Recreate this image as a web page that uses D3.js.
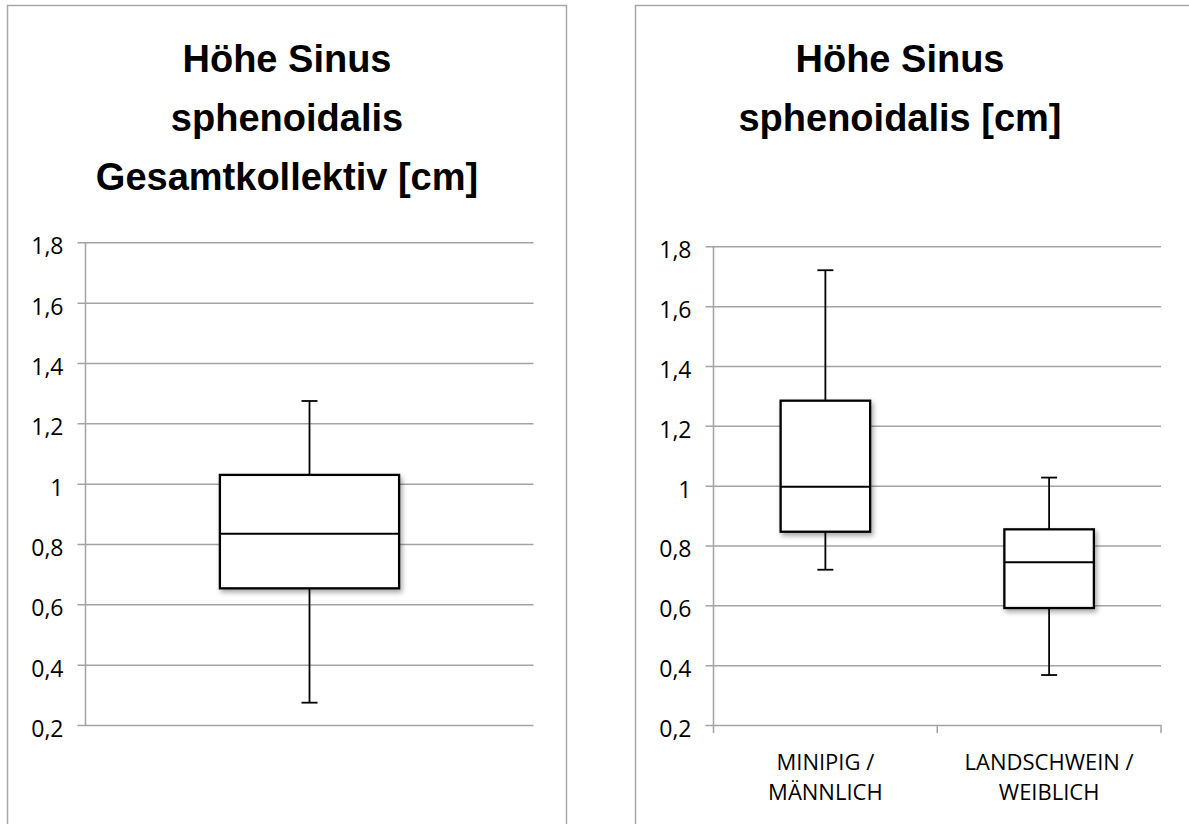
<!DOCTYPE html>
<html>
<head>
<meta charset="utf-8">
<script src="https://cdn.jsdelivr.net/npm/d3@7"></script>
<style>
  body { margin: 0; background: #ffffff; }
  svg { display: block; }
</style>
</head>
<body>
<svg id="chart" width="1189" height="824"></svg>
<script>
// Y axis ticks and their German-formatted labels
const yTicks = [0.2, 0.4, 0.6, 0.8, 1.0, 1.2, 1.4, 1.6, 1.8];
const yTickLabels = ["0,2", "0,4", "0,6", "0,8", "1", "1,2", "1,4", "1,6", "1,8"];

// Whole sample (one box)
const overallTitle = ["Höhe Sinus", "sphenoidalis", "Gesamtkollektiv [cm]"];
const overallCategories = ["gesamt"];
const overallMin = [0.274];
const overallQ1 = [0.653];
const overallMedian = [0.834];
const overallQ3 = [1.029];
const overallMax = [1.274];

// Split by group (two boxes)
const groupTitle = ["Höhe Sinus", "sphenoidalis [cm]"];
const groupCategories = ["MINIPIG / MÄNNLICH", "LANDSCHWEIN / WEIBLICH"];
const groupLabelLines = [["MINIPIG /", "MÄNNLICH"], ["LANDSCHWEIN /", "WEIBLICH"]];
const groupMin = [0.719, 0.367];
const groupQ1 = [0.846, 0.591];
const groupMedian = [0.996, 0.744];
const groupQ3 = [1.284, 0.854];
const groupMax = [1.720, 1.027];

const svg = d3.select("#chart");
const GRID = "#a3a3a3";
const BORDER = "#a8a8a8";
const LABEL_FONT = "'Open Sans', 'DejaVu Sans', sans-serif";
const TITLE_FONT = "'Liberation Sans', Arial, sans-serif";

// soft drop shadow under the boxes
const defs = svg.append("defs");
const shadow = defs.append("filter").attr("id", "boxShadow")
  .attr("x", "-20%").attr("y", "-20%").attr("width", "140%").attr("height", "140%");
shadow.append("feDropShadow")
  .attr("dx", 2).attr("dy", 3).attr("stdDeviation", 2.5)
  .attr("flood-color", "#000").attr("flood-opacity", 0.35);

svg.append("rect").attr("width", 1189).attr("height", 824).attr("fill", "#fff");

function drawPanel(cfg) {
  const g = svg.append("g");

  // panel frame
  g.append("rect")
    .attr("x", cfg.frame[0]).attr("y", cfg.frame[1])
    .attr("width", cfg.frame[2]).attr("height", cfg.frame[3])
    .attr("fill", "#fff").attr("stroke", BORDER).attr("stroke-width", 1.5);

  // title
  const title = g.append("text")
    .attr("x", cfg.titleX).attr("y", cfg.titleY)
    .attr("text-anchor", "middle")
    .attr("font-family", TITLE_FONT).attr("font-weight", "bold")
    .attr("font-size", cfg.titleSize).attr("fill", "#000");
  cfg.title.forEach((line, i) => {
    title.append("tspan").attr("x", cfg.titleX).attr("dy", i === 0 ? 0 : cfg.titleLead).text(line);
  });

  const y = d3.scaleLinear().domain([0.2, 1.8]).range([cfg.bottom, cfg.top]);
  const x = d3.scaleBand().domain(cfg.categories).range([cfg.left, cfg.right])
    .paddingInner(0).paddingOuter(0);

  // horizontal gridlines with outward ticks and value labels
  const yAxis = d3.axisLeft(y)
    .tickValues(yTicks)
    .tickFormat((d, i) => yTickLabels[i])
    .tickSize(-(cfg.right - cfg.left))
    .tickSizeOuter(0);
  const ya = g.append("g").attr("transform", `translate(${cfg.left},0)`).call(yAxis);
  ya.select(".domain").remove();
  ya.selectAll(".tick line")
    .attr("x1", -8)
    .attr("stroke", GRID).attr("stroke-width", 1.5);
  ya.selectAll(".tick text")
    .attr("x", -22).attr("dy", "0.5em")
    .attr("font-family", LABEL_FONT).attr("font-size", 23).attr("fill", "#000");

  // vertical axis line
  g.append("line")
    .attr("x1", cfg.left).attr("x2", cfg.left)
    .attr("y1", y(1.8)).attr("y2", y(0.2))
    .attr("stroke", GRID).attr("stroke-width", 1.5);

  // category axis ticks and labels
  if (cfg.labelLines) {
    const bounds = cfg.categories.map(c => x(c)).concat([cfg.right]);
    g.selectAll("line.xtick").data(bounds).join("line")
      .attr("class", "xtick")
      .attr("x1", d => d).attr("x2", d => d)
      .attr("y1", y(0.2)).attr("y2", y(0.2) + 8)
      .attr("stroke", GRID).attr("stroke-width", 1.5);
    cfg.categories.forEach((c, i) => {
      const t = g.append("text")
        .attr("x", x(c) + x.bandwidth() / 2).attr("y", cfg.labelY)
        .attr("text-anchor", "middle")
        .attr("font-family", LABEL_FONT).attr("font-size", 22).attr("fill", "#000");
      cfg.labelLines[i].forEach((line, j) => {
        t.append("tspan").attr("x", x(c) + x.bandwidth() / 2)
          .attr("dy", j === 0 ? 0 : 30).text(line);
      });
    });
  }

  // box plots
  const bw = x.bandwidth() * 0.4;
  const capW = 16;
  cfg.categories.forEach((c, i) => {
    const cx = x(c) + x.bandwidth() / 2;
    const bg = g.append("g");
    // whiskers
    bg.append("line")
      .attr("x1", cx).attr("x2", cx)
      .attr("y1", y(cfg.max[i])).attr("y2", y(cfg.q3[i]))
      .attr("stroke", "#000").attr("stroke-width", 1.8);
    bg.append("line")
      .attr("x1", cx).attr("x2", cx)
      .attr("y1", y(cfg.q1[i])).attr("y2", y(cfg.min[i]))
      .attr("stroke", "#000").attr("stroke-width", 1.8);
    [cfg.max[i], cfg.min[i]].forEach(v => {
      bg.append("line")
        .attr("x1", cx - capW / 2).attr("x2", cx + capW / 2)
        .attr("y1", y(v)).attr("y2", y(v))
        .attr("stroke", "#000").attr("stroke-width", 1.8);
    });
    // box
    bg.append("rect")
      .attr("x", cx - bw / 2).attr("width", bw)
      .attr("y", y(cfg.q3[i])).attr("height", y(cfg.q1[i]) - y(cfg.q3[i]))
      .attr("fill", "#fff").attr("stroke", "#000").attr("stroke-width", 2.3)
      .attr("filter", "url(#boxShadow)");
    // median
    bg.append("line")
      .attr("x1", cx - bw / 2).attr("x2", cx + bw / 2)
      .attr("y1", y(cfg.median[i])).attr("y2", y(cfg.median[i]))
      .attr("stroke", "#000").attr("stroke-width", 2);
  });
}

drawPanel({
  frame: [7.5, 5.5, 559, 900],
  title: overallTitle, titleX: 287, titleY: 72, titleLead: 59, titleSize: 38,
  categories: overallCategories,
  min: overallMin, q1: overallQ1, median: overallMedian, q3: overallQ3, max: overallMax,
  left: 85.5, right: 533.5, top: 242.3, bottom: 725
});

drawPanel({
  frame: [635.5, 5.5, 600, 900],
  title: groupTitle, titleX: 900, titleY: 72, titleLead: 59, titleSize: 38,
  categories: groupCategories, labelLines: groupLabelLines, labelY: 770,
  min: groupMin, q1: groupQ1, median: groupMedian, q3: groupQ3, max: groupMax,
  left: 713.5, right: 1161, top: 246.3, bottom: 725
});
</script>
</body>
</html>
